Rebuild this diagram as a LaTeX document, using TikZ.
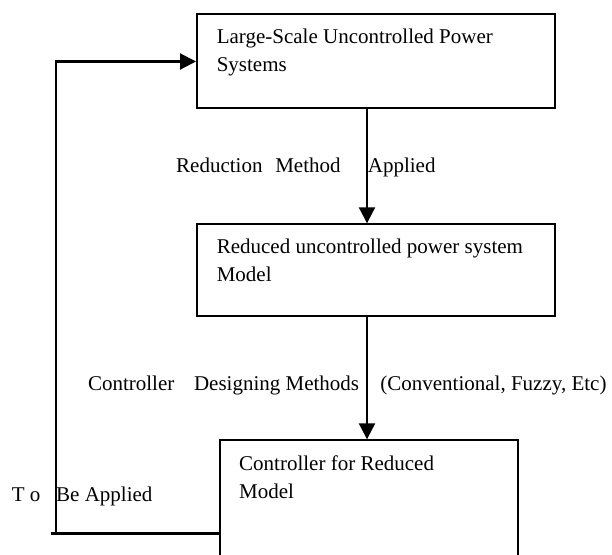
\documentclass[tikz,border=0pt]{standalone}
\usepackage{fontspec}
\setmainfont{Liberation Serif}
\usetikzlibrary{arrows.meta}
\begin{document}
\begin{tikzpicture}[x=1pt,y=-1pt,
  line/.style={line width=2.2pt},
  arr/.style={line width=2.2pt,-{Triangle[length=16pt,width=16pt]}},
  box/.style={draw,line width=2pt,anchor=north west,inner sep=0pt},
  txt/.style={anchor=base west,inner sep=0pt,font=\fontsize{21}{28}\selectfont}]
\useasboundingbox (0,0) rectangle (612,554);
% boxes
\node[box,minimum width=358pt,minimum height=94pt] (b1) at (196,12.7) {};
\node[box,minimum width=358pt,minimum height=91.7pt] (b2) at (196,223.3) {};
\node[box,minimum width=298.4pt,minimum height=200pt] (b3) at (218.6,439.3) {};
% box texts
\node[txt] (t1a) at (216.6,43.8) {Large-Scale Uncontrolled Power};
\node[txt] (t1b) at (216.6,71.5) {Systems};
\node[txt] (t2a) at (216.6,253) {Reduced uncontrolled power system};
\node[txt] (t2b) at (216.6,281.5) {Model};
\node[txt] (t3a) at (239,470) {Controller for Reduced};
\node[txt] (t3b) at (239,498) {Model};
% labels
\node[txt] (l1) at (176,172) {Reduction\hspace{7.5pt} Method\hspace{22pt} Applied};
\node[txt] (l2) at (87.8,390) {Controller\hspace{14.5pt} Designing Methods\hspace{16pt} (Conventional, Fuzzy, Etc)};
\node[txt] (l3) at (11.7,501) {T o\hspace{10.5pt} Be Applied};
% connectors
\coordinate (ax) at (367,0);
\draw[arr] (b1.south -| ax) -- (b2.north -| ax);
\draw[arr] (b2.south -| ax) -- (b3.north -| ax);
\coordinate (fbL) at (50.5,533.5);
\coordinate (fbC) at (56.3,533.5);
\coordinate (fbT) at (56.3,61.5);
\draw[line] (fbL) -- (b3.north west |- fbL);
\draw[arr] (fbC) -- (fbT) -- (b1.north west |- fbT);
\end{tikzpicture}
\end{document}
